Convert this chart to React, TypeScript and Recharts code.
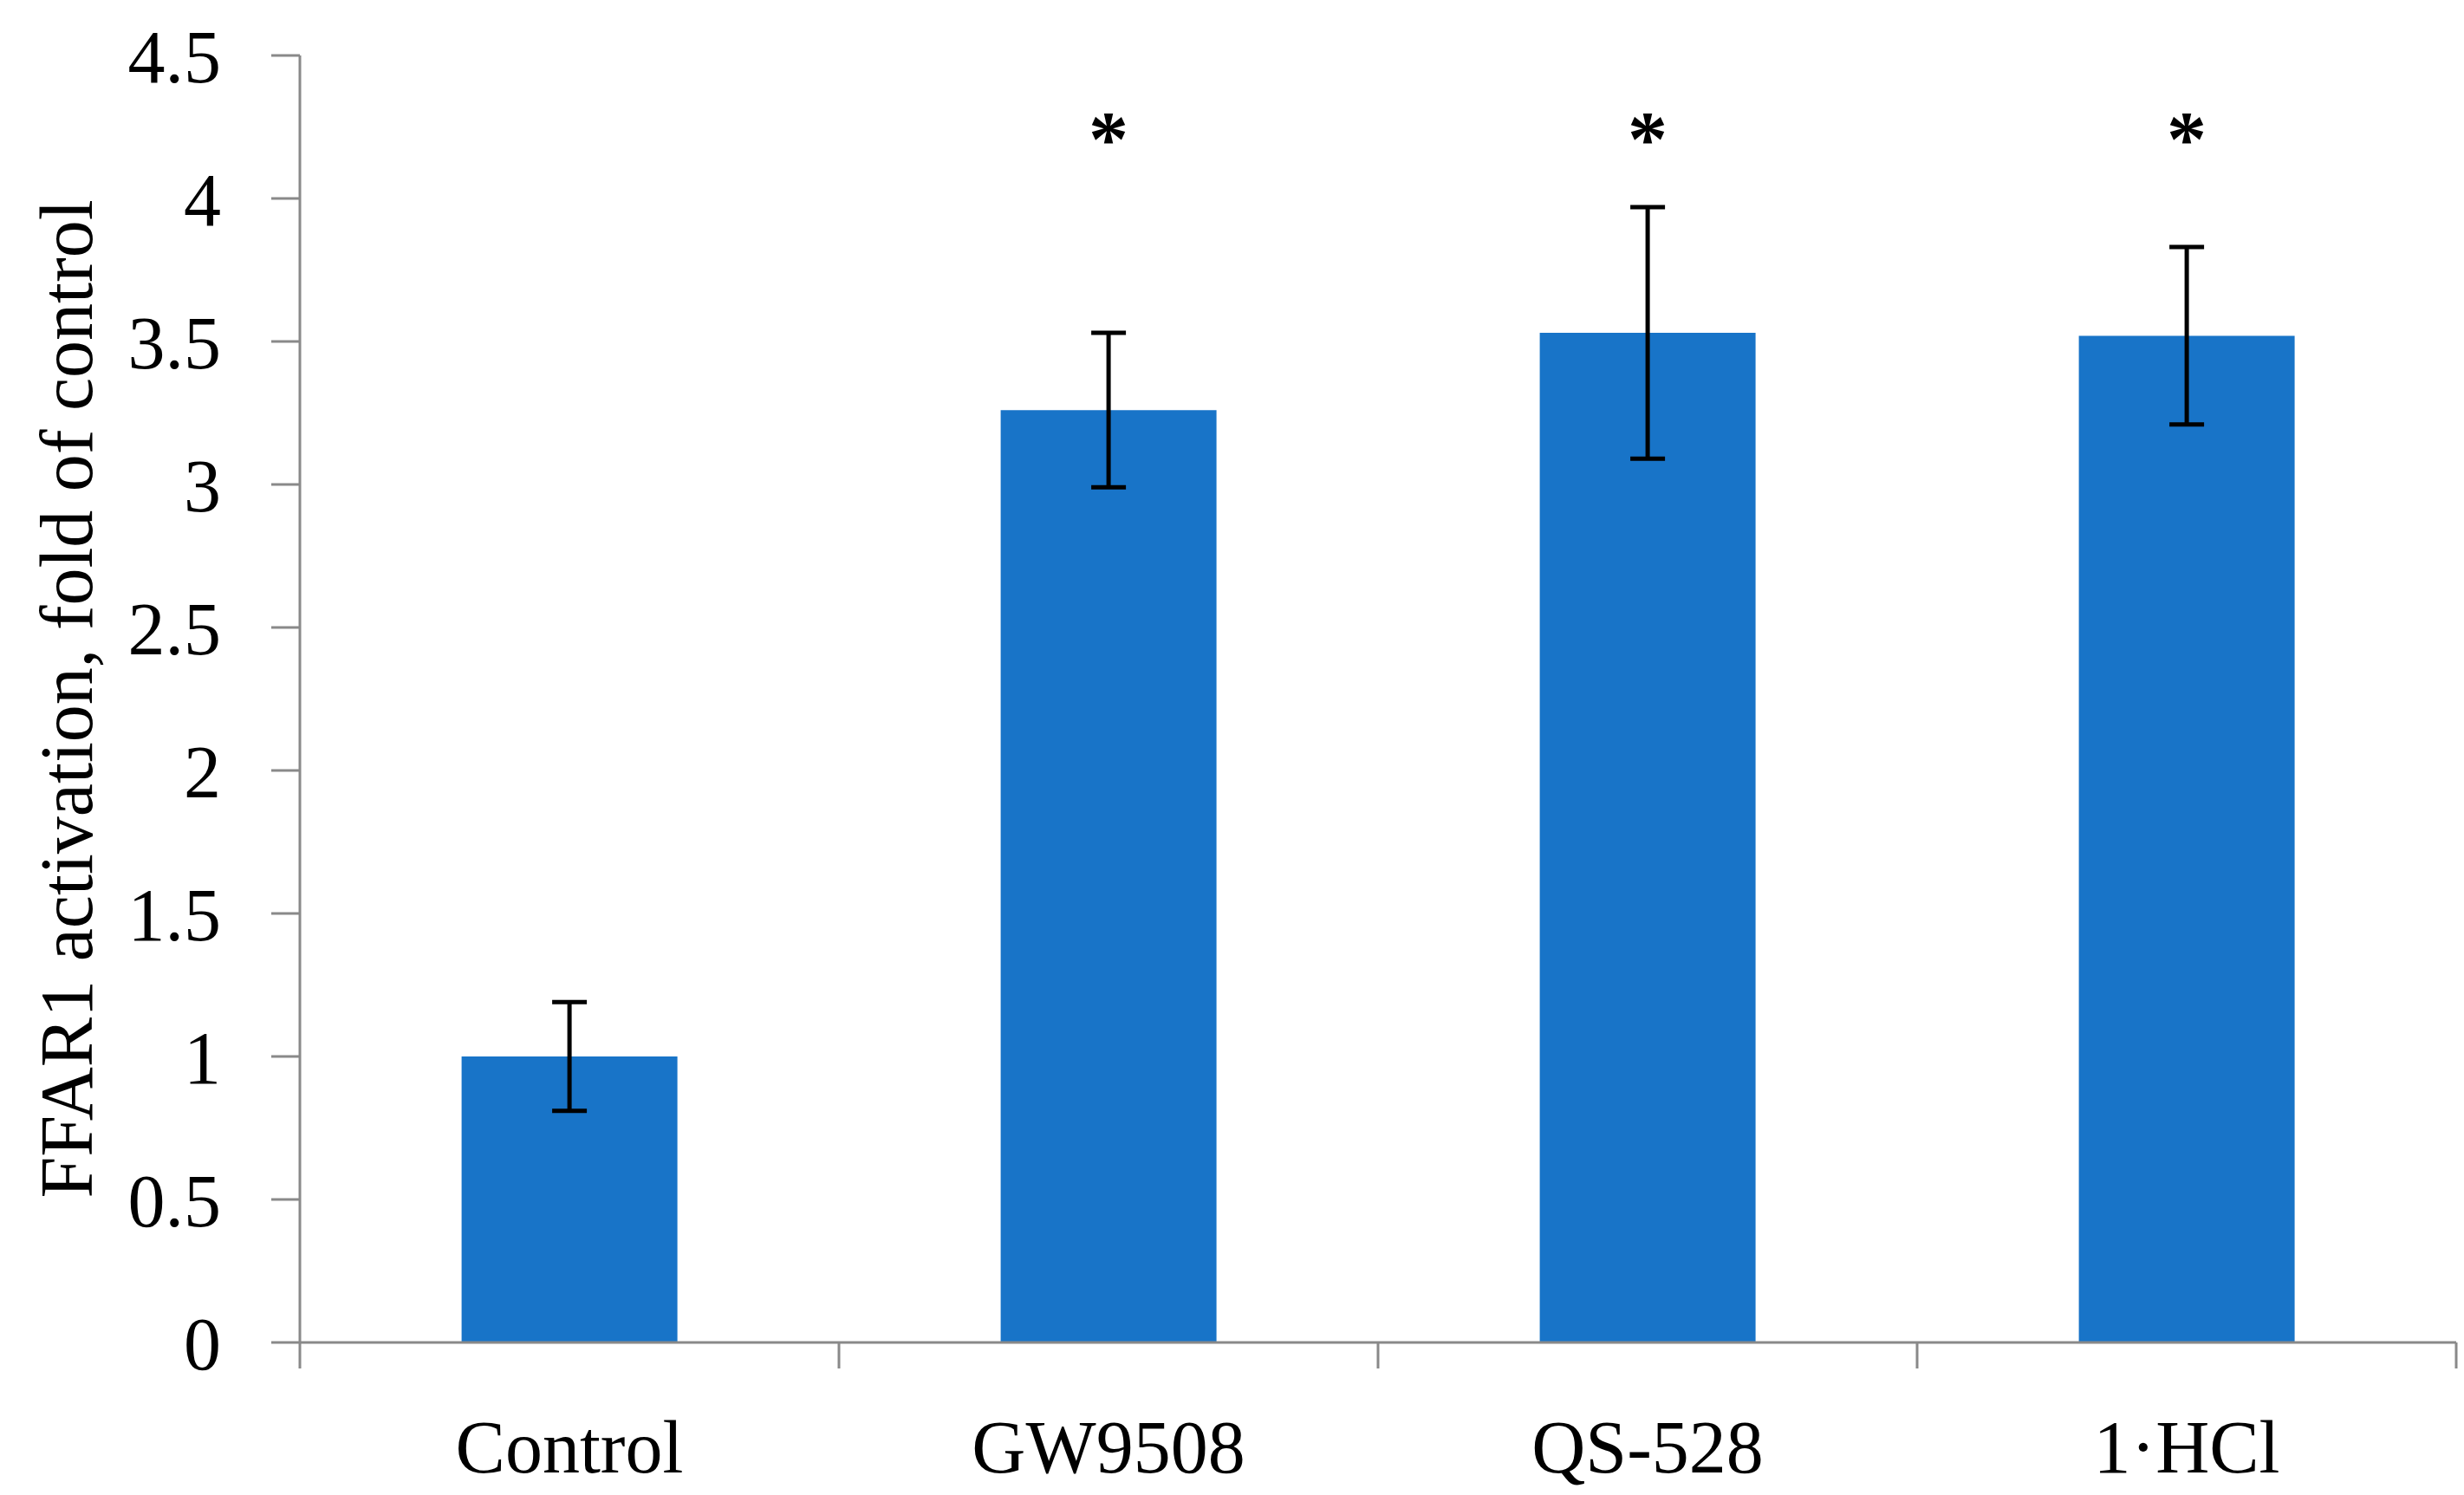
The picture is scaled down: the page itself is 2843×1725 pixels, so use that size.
import React from "react";
import {
  ComposedChart,
  Bar,
  ErrorBar,
  Scatter,
  XAxis,
  YAxis,
} from "recharts";

const categories = ["Control", "GW9508", "QS-528", "1·HCl"];
const values = [1.0, 3.26, 3.53, 3.52];
const errors = [0.19, 0.27, 0.44, 0.31];
const stars = [null, 4.25, 4.25, 4.25];
const yTicks = [0, 0.5, 1, 1.5, 2, 2.5, 3, 3.5, 4, 4.5];

const data = categories.map((name, i) => ({
  name,
  value: values[i],
  err: errors[i],
  star: stars[i],
}));

const W = 2843;
const H = 1725;
const LEFT = 346;
const RIGHT = 9;
const TOP = 64;
const BOTTOM = 176;
const PLOT_W = W - LEFT - RIGHT;
const FONT = "'Liberation Serif', 'Times New Roman', serif";
const AXIS = "#898989";

const CategoryTick = (props: any) => {
  const { x, y, payload, index } = props;
  const bw = PLOT_W / categories.length;
  return (
    <g>
      <line x1={x - bw / 2} y1={y} x2={x - bw / 2} y2={y + 30} stroke={AXIS} strokeWidth={3} />
      {index === categories.length - 1 && (
        <line x1={x + bw / 2} y1={y} x2={x + bw / 2} y2={y + 30} stroke={AXIS} strokeWidth={3} />
      )}
      <text x={x} y={y + 150} textAnchor="middle" fontFamily={FONT} fontSize={86} fill="#000">
        {payload.value}
      </text>
    </g>
  );
};

const StarShape = (props: any) => {
  const { cx, cy } = props;
  if (cx == null || cy == null || isNaN(cy)) return null;
  return (
    <text x={cx} y={cy} dy="0.48em" textAnchor="middle" fontFamily={FONT} fontSize={92} fontWeight="bold" fill="#000">
      *
    </text>
  );
};

const YTitle = (props: any) => {
  const vb = props.viewBox;
  const cx = 77;
  const cy = vb.y + vb.height / 2;
  return (
    <text
      x={cx}
      y={cy}
      transform={`rotate(-90 ${cx} ${cy})`}
      textAnchor="middle"
      dominantBaseline="central"
      fontFamily={FONT}
      fontSize={86}
      fill="#000"
    >
      FFAR1 activation, fold of control
    </text>
  );
};

export default function App() {
  return (
    <div style={{ position: "absolute", left: 0, top: 0, width: W, height: H, background: "#fff" }}>
      <ComposedChart
        width={W}
        height={H}
        data={data}
        margin={{ top: TOP, right: RIGHT, bottom: 0, left: 0 }}
        barCategoryGap="30%"
      >
        <XAxis
          dataKey="name"
          type="category"
          interval={0}
          height={BOTTOM}
          axisLine={{ stroke: AXIS, strokeWidth: 3 }}
          tickLine={false}
          tickSize={0}
          tickMargin={0}
          tick={<CategoryTick />}
        />
        <YAxis
          type="number"
          width={LEFT}
          domain={[0, 4.5]}
          ticks={yTicks}
          interval={0}
          axisLine={{ stroke: AXIS, strokeWidth: 3 }}
          tickLine={{ stroke: AXIS, strokeWidth: 3 }}
          tickSize={33}
          tickMargin={58}
          tick={{ fontFamily: FONT, fontSize: 86, fill: "#000" }}
          label={<YTitle />}
        />
        <Bar dataKey="value" fill="#1874C8" isAnimationActive={false}>
          <ErrorBar dataKey="err" width={20} strokeWidth={5} stroke="#000" direction="y" isAnimationActive={false} />
        </Bar>
        <Scatter dataKey="star" shape={<StarShape />} isAnimationActive={false} />
      </ComposedChart>
    </div>
  );
}
